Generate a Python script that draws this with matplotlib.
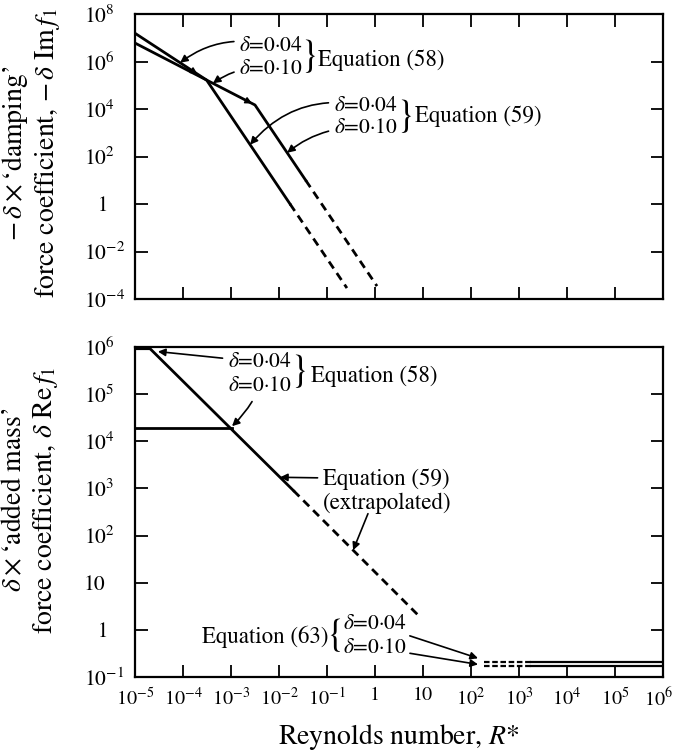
import matplotlib.pyplot as plt
import matplotlib.transforms as mtransforms
import numpy as np

plt.rcParams['font.family'] = ['STIXGeneral', 'DejaVu Serif']
plt.rcParams['mathtext.fontset'] = 'stix'

# --- top panel: -delta x 'damping' force coefficient ---
damp_a_R = [1e-5, 3.1e-4, 1.7e-2]
damp_a_F = [1.55e7, 1.66e5, 1.0]
damp_a_dash_R = [1.7e-2, 2.6e-1]
damp_a_dash_F = [1.0, 2.9e-4]

damp_b_R = [1e-5, 3.1e-4, 3.16e-3, 3.6e-2]
damp_b_F = [6.0e6, 1.66e5, 1.48e4, 10.0]
damp_b_dash_R = [3.6e-2, 1.1]
damp_b_dash_F = [10.0, 3.5e-4]

# --- bottom panel: delta x 'added mass' force coefficient ---
add58_a_R = [1e-5, 2e-5]
add58_a_F = [9.5e5, 9.5e5]
add58_b_R = [1e-5, 1.05e-3]
add58_b_F = [1.9e4, 1.9e4]
add59_R = [2e-5, 0.02]
add59_F = [9.5e5, 900.0]
add59_dash_R = [0.02, 9.0]
add59_dash_F = [900.0, 1.8]
add63_R = [190.0, 1800.0, 1e6]
add63_a_F = [0.21, 0.21, 0.21]
add63_b_F = [0.17, 0.17, 0.17]

x_ticks = [1e-5, 1e-4, 1e-3, 1e-2, 1e-1, 1, 10, 1e2, 1e3, 1e4, 1e5, 1e6]
x_tick_labels = ['$10^{-5}$', '$10^{-4}$', '$10^{-3}$', '$10^{-2}$', '$10^{-1}$', '1',
                 '10', '$10^{2}$', '$10^{3}$', '$10^{4}$', '$10^{5}$', '$10^{6}$']
top_y_ticks = [1e-4, 1e-2, 1, 1e2, 1e4, 1e6, 1e8]
top_y_labels = ['$10^{-4}$', '$10^{-2}$', '\u20071', '$10^{2}$', '$10^{4}$', '$10^{6}$', '$10^{8}$']
bot_y_ticks = [1e-1, 1, 10, 1e2, 1e3, 1e4, 1e5, 1e6]
bot_y_labels = ['$10^{-1}$', '\u20071', '10', '$10^{2}$', '$10^{3}$', '$10^{4}$', '$10^{5}$', '$10^{6}$']

d04 = r'$\delta$=0·04'
d10 = r'$\delta$=0·10'


def on_line(R, Rs, Fs):
    # log-log interpolation along a drawn curve
    return 10 ** np.interp(np.log10(R), np.log10(Rs), np.log10(Fs))


LW = 2.0
TXT = 16.5
DTXT = 15.5
BR = 27

fig = plt.figure(figsize=(6.76, 7.54), dpi=100)
ax1 = fig.add_axes([0.1997, 0.6034, 0.7811, 0.378])
ax2 = fig.add_axes([0.1997, 0.1021, 0.7811, 0.4377])

for ax in (ax1, ax2):
    ax.set_xscale('log')
    ax.set_yscale('log')
    ax.set_xlim(1e-5, 1e6)
    ax.set_xticks(x_ticks)
    ax.minorticks_off()
    for s in ax.spines.values():
        s.set_linewidth(1.6)
    ax.tick_params(direction='in', length=9, width=1.3, labelsize=15.5, pad=7)
    ax.tick_params(axis='x', labelsize=14.5)
    ax.tick_params(axis='y', pad=37)

# top panel
ax1.plot(damp_a_R, damp_a_F, 'k-', lw=LW)
ax1.plot(damp_a_dash_R, damp_a_dash_F, 'k-', lw=LW, dashes=(3, 2))
ax1.plot(damp_b_R, damp_b_F, 'k-', lw=LW)
ax1.plot(damp_b_dash_R, damp_b_dash_F, 'k-', lw=LW, dashes=(3, 2))
ax1.set_ylim(1e-4, 1e8)
ax1.set_yticks(top_y_ticks)
ax1.set_yticklabels(top_y_labels, ha='left')
ax1.set_xticklabels([])
ax1.tick_params(top=True, right=True)

arr = dict(arrowstyle='-|>', color='k', lw=1.2, mutation_scale=11, shrinkA=2, shrinkB=0)

# small arrow marks along the upper curves
for R, Rs, Fs in [(2.0e-4, damp_a_R, damp_a_F), (2.75e-3, damp_b_R, damp_b_F)]:
    ax1.annotate('', xy=(R, on_line(R, Rs, Fs)), xytext=(R * 0.75, on_line(R * 0.75, Rs, Fs)),
                 arrowprops=dict(arrowstyle='-|>', color='k', lw=1.0, mutation_scale=10,
                                 shrinkA=0, shrinkB=0))

ax1.annotate(d04, xy=(8.7e-5, on_line(8.7e-5, damp_a_R, damp_a_F)),
             xytext=(1.5e-3, 4.6e6), fontsize=DTXT, va='center', ha='left',
             arrowprops=dict(arr, connectionstyle='arc3,rad=0.25'))
ax1.annotate(d10, xy=(4.2e-4, on_line(4.2e-4, damp_b_R, damp_b_F)),
             xytext=(1.5e-3, 5.0e5), fontsize=DTXT, va='center', ha='left',
             arrowprops=dict(arr, connectionstyle='arc3,rad=0.2'))
ax1.text(0.043, 1.6e6, '}', fontsize=BR, va='center', ha='center')
ax1.text(0.066, 1.15e6, 'Equation (58)', fontsize=TXT, va='center', ha='left')

ax1.annotate(d04, xy=(2.5e-3, on_line(2.5e-3, damp_a_R, damp_a_F)),
             xytext=(0.14, 1.35e4), fontsize=DTXT, va='center', ha='left',
             arrowprops=dict(arr, connectionstyle='arc3,rad=0.3'))
ax1.annotate(d10, xy=(0.0148, on_line(0.0148, damp_b_R, damp_b_F)),
             xytext=(0.14, 1.6e3), fontsize=DTXT, va='center', ha='left',
             arrowprops=dict(arr, connectionstyle='arc3,rad=0.2'))
ax1.text(4.2, 5.0e3, '}', fontsize=BR, va='center', ha='center')
ax1.text(6.8, 5.0e3, 'Equation (59)', fontsize=TXT, va='center', ha='left')

# bottom panel
ax2.plot(add58_a_R, add58_a_F, 'k-', lw=LW + 1)
ax2.plot(add58_b_R, add58_b_F, 'k-', lw=LW)
ax2.plot(add59_R, add59_F, 'k-', lw=LW)
ax2.plot(add59_dash_R, add59_dash_F, 'k-', lw=LW, dashes=(3, 2))
ax2.plot(add63_R[:2], add63_a_F[:2], 'k-', lw=1.6, dashes=(2.5, 1.2))
ax2.plot(add63_R[1:], add63_a_F[1:], 'k-', lw=1.6)
ax2.plot(add63_R[:2], add63_b_F[:2], 'k-', lw=1.6, dashes=(2.5, 1.2))
ax2.plot(add63_R[1:], add63_b_F[1:], 'k-', lw=1.6)
ax2.set_ylim(1e-1, 1e6)
ax2.set_yticks(bot_y_ticks)
ax2.set_yticklabels(bot_y_labels, ha='left')
ax2.set_xticklabels(x_tick_labels)
ax2.tick_params(right=True)

# nudge the last x label so it stays inside the figure
last = ax2.get_xticklabels()[-1]
last.set_transform(last.get_transform() + mtransforms.ScaledTranslation(-3 / 72, 0, fig.dpi_scale_trans))

ax2.annotate(d04, xy=(3.0e-5, 8.0e5), xytext=(8.7e-4, 4.8e5),
             fontsize=DTXT, va='center', ha='left', arrowprops=arr)
ax2.annotate(d10, xy=(add58_b_R[-1], add58_b_F[-1] * 1.1), xytext=(8.7e-4, 1.45e5),
             fontsize=DTXT, va='center', ha='left',
             arrowprops=dict(arr, connectionstyle='arc3,rad=-0.1'))
ax2.text(0.026, 3.0e5, '}', fontsize=BR, va='center', ha='center')
ax2.text(0.046, 2.4e5, 'Equation (58)', fontsize=TXT, va='center', ha='left')

ax2.annotate('Equation (59)', xy=(0.0105, on_line(0.0105, add59_R, add59_F)), xytext=(0.083, 1.6e3),
             fontsize=TXT, va='center', ha='left', arrowprops=arr)
ax2.annotate('', xy=(0.35, on_line(0.35, add59_dash_R, add59_dash_F)), xytext=(0.75, 330),
             arrowprops=arr)
ax2.text(0.083, 490, '(extrapolated)', fontsize=TXT, va='center', ha='left')

ax2.text(0.11, 0.72, 'Equation (63)', fontsize=TXT, va='center', ha='right')
ax2.text(0.15, 0.74, '{', fontsize=BR, va='center', ha='center')
ax2.annotate(d04, xy=(140, 0.25), xytext=(0.22, 1.3),
             fontsize=DTXT, va='center', ha='left', arrowprops=dict(arr, shrinkA=0))
ax2.annotate(d10, xy=(140, 0.185), xytext=(0.22, 0.42),
             fontsize=DTXT, va='center', ha='left', arrowprops=dict(arr, shrinkA=0))

fig.text(31 / 676, 1 - 153 / 754,
         "$-\\,\\delta\\times$\u2018damping\u2019\nforce coefficient, $-\\,\\delta\\ \\mathrm{Im}\\,f_1$",
         rotation=90, ha='center', va='center', fontsize=20, linespacing=1.15)
fig.text(31 / 676, 1 - 500 / 754,
         "$\\delta\\times$\u2018added mass\u2019\nforce coefficient, $\\delta\\ \\mathrm{Re}\\,f_1$",
         rotation=90, ha='center', va='center', fontsize=20, linespacing=1.15)
fig.text(399 / 676, 1 - 737 / 754, 'Reynolds number, $R$*', ha='center', va='center', fontsize=20)

fig.savefig('out.png', dpi=100)
